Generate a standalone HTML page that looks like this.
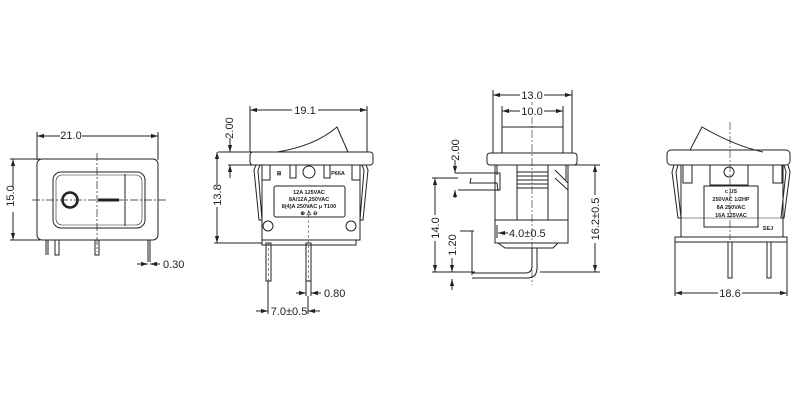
<!DOCTYPE html>
<html><head><meta charset="utf-8"><style>
html,body{margin:0;padding:0;background:#fff;width:800px;height:400px;overflow:hidden}
svg{display:block}
text{font-family:"Liberation Sans",sans-serif;fill:#222}
</style></head><body>
<svg width="800" height="400" viewBox="0 0 800 400" xmlns="http://www.w3.org/2000/svg">
<defs>
<marker id="a" viewBox="0 0 10 10" refX="10" refY="5" markerWidth="7" markerHeight="7" orient="auto-start-reverse"><path d="M0,2 L10,5 L0,8z" fill="#222"/></marker>
</defs>
<g fill="none" stroke="#222" stroke-width="1">
<!-- VIEW 1 -->
<line x1="37" y1="132" x2="37" y2="160"/><line x1="158" y1="132" x2="158" y2="160"/>
<line x1="37" y1="136" x2="158" y2="136" marker-start="url(#a)" marker-end="url(#a)"/>
<rect x="37" y="159" width="121" height="81" rx="5"/>
<rect x="53" y="172" width="92" height="56" rx="8"/>
<rect x="56" y="175" width="86" height="50" rx="6" stroke-width="0.6"/>
<line x1="125" y1="174" x2="125" y2="226"/>
<circle cx="70" cy="200" r="7.5" stroke-width="2.6"/>
<line x1="98" y1="200" x2="119" y2="200" stroke-width="3"/>
<line x1="32" y1="200" x2="166" y2="200" stroke-dasharray="8,2,2,2" stroke-width="0.7"/>
<line x1="97" y1="153" x2="97" y2="252" stroke-dasharray="8,2,2,2" stroke-width="0.7"/>
<line x1="10" y1="159" x2="40" y2="159"/><line x1="10" y1="240" x2="40" y2="240"/>
<line x1="13" y1="159" x2="13" y2="240" marker-start="url(#a)" marker-end="url(#a)"/>
<line x1="46" y1="240" x2="46" y2="255"/><line x1="48" y1="240" x2="48" y2="255"/>
<rect x="55" y="240" width="4" height="15"/><rect x="95" y="240" width="4" height="15"/>
<line x1="148" y1="240" x2="148" y2="262"/><line x1="150" y1="240" x2="150" y2="262"/>
<line x1="137" y1="264" x2="148" y2="264" marker-end="url(#a)"/><line x1="160" y1="264" x2="150" y2="264" marker-end="url(#a)"/>

<!-- VIEW 2 -->
<line x1="250" y1="106" x2="250" y2="152"/><line x1="367" y1="106" x2="367" y2="152"/>
<line x1="250" y1="110" x2="367" y2="110" marker-start="url(#a)" marker-end="url(#a)"/>
<path d="M277,152 Q315,146 337,127 L348,152"/>
<rect x="250" y="152" width="123" height="13" rx="3"/>
<line x1="218" y1="152" x2="252" y2="152"/><line x1="228" y1="165" x2="252" y2="165"/>
<line x1="230" y1="138" x2="230" y2="152" marker-end="url(#a)"/><line x1="230" y1="178" x2="230" y2="165" marker-end="url(#a)"/>
<line x1="214" y1="243" x2="262" y2="243"/>
<line x1="217" y1="152" x2="217" y2="243" marker-start="url(#a)" marker-end="url(#a)"/>
<path d="M256,165 L254,170 L259,220 L262,220 L258,170 L260,165"/>
<path d="M366,165 L368,170 L363,220 L360,220 L364,170 L362,165"/>
<path d="M262,165 L262,240 L360,240 L360,165"/>
<rect x="262" y="165" width="8" height="15"/><rect x="352" y="165" width="8" height="15"/>
<rect x="290" y="165" width="6" height="13"/><rect x="324" y="165" width="6" height="13"/>
<circle cx="309" cy="172" r="6"/>
<rect x="274" y="186" width="71" height="31" rx="2"/>
<circle cx="268" cy="226" r="5"/><circle cx="351" cy="226" r="5"/>
<path d="M262,240 L262,245 L356,245 L356,240"/>
<rect x="266" y="243" width="5" height="38"/><rect x="306" y="243" width="5" height="38"/>
<line x1="268.5" y1="243" x2="268.5" y2="281" stroke-dasharray="3,2" stroke-width="0.5"/>
<line x1="308.5" y1="200" x2="308.5" y2="281" stroke-dasharray="3,2" stroke-width="0.5"/>
<line x1="306" y1="281" x2="306" y2="296"/><line x1="311" y1="281" x2="311" y2="296"/>
<line x1="296" y1="293" x2="306" y2="293" marker-end="url(#a)"/><line x1="321" y1="293" x2="311" y2="293" marker-end="url(#a)"/>
<line x1="268" y1="281" x2="268" y2="314"/><line x1="308" y1="296" x2="308" y2="314"/>
<line x1="256" y1="311" x2="268" y2="311" marker-end="url(#a)"/><line x1="320" y1="311" x2="308" y2="311" marker-end="url(#a)"/>

<!-- VIEW 3 -->
<line x1="493" y1="90" x2="493" y2="153"/><line x1="572" y1="90" x2="572" y2="153"/>
<line x1="493" y1="95" x2="572" y2="95" marker-start="url(#a)" marker-end="url(#a)"/>
<line x1="502" y1="106" x2="502" y2="127"/><line x1="563" y1="106" x2="563" y2="127"/>
<line x1="502" y1="111" x2="563" y2="111" marker-start="url(#a)" marker-end="url(#a)"/>
<rect x="502" y="127" width="61" height="26"/>
<rect x="487" y="153" width="90" height="12" rx="3"/>
<line x1="532" y1="102" x2="532" y2="285" stroke-dasharray="8,2,2,2" stroke-width="0.6"/>
<rect x="495" y="165" width="73" height="55"/>
<line x1="497" y1="165" x2="497" y2="175"/><line x1="566" y1="165" x2="566" y2="180"/>
<rect x="517" y="165" width="31" height="55"/>
<line x1="517" y1="172" x2="548" y2="172"/><line x1="517" y1="176" x2="548" y2="176"/><line x1="517" y1="180" x2="548" y2="180"/><line x1="517" y1="184" x2="548" y2="184"/><line x1="517" y1="188" x2="548" y2="188"/>
<path d="M555,170 L568,183 L568,190 L555,178"/>
<path d="M455,173 L500,173 L500,184 L500,190 L458,190"/>
<path d="M471,178 L470,183 L497,183 L498,191"/>
<rect x="495" y="220" width="73" height="23"/>
<path d="M498,243 L505,248 L553,248 L558,243"/>
<path d="M532,248 L532,266 Q532,273 525,273 L472,273"/>
<path d="M537,248 L537,268 Q537,278 527,278 L472,278"/>
<line x1="573" y1="165" x2="600" y2="165"/><line x1="540" y1="272" x2="600" y2="272"/>
<line x1="595" y1="165" x2="595" y2="272" marker-start="url(#a)" marker-end="url(#a)"/>
<line x1="432" y1="178" x2="458" y2="178"/><line x1="432" y1="272" x2="475" y2="272"/>
<line x1="435" y1="178" x2="435" y2="272" marker-start="url(#a)" marker-end="url(#a)"/>
<line x1="455" y1="160" x2="455" y2="173" marker-end="url(#a)"/><line x1="455" y1="198" x2="455" y2="190" marker-end="url(#a)"/>
<line x1="460" y1="231" x2="474" y2="231"/><line x1="472" y1="231" x2="472" y2="275"/>
<line x1="452" y1="258" x2="452" y2="272" marker-end="url(#a)"/><line x1="452" y1="290" x2="452" y2="279" marker-end="url(#a)"/>
<line x1="497" y1="225" x2="497" y2="238"/>
<line x1="508" y1="233" x2="498" y2="233" marker-end="url(#a)"/>

<!-- VIEW 4 -->
<path d="M690,150 L702,127 Q735,146 763,152"/>
<rect x="667" y="150" width="123" height="15" rx="4"/>
<line x1="730" y1="122" x2="730" y2="240" stroke-dasharray="8,2,2,2" stroke-width="0.6"/>
<path d="M674,165 L672,172 L678,218 L681,218 L676,172 L678,165"/>
<path d="M788,165 L790,172 L784,218 L781,218 L786,172 L784,165"/>
<path d="M681,165 L681,237 L783,237 L783,165"/>
<rect x="683" y="165" width="9" height="18"/><rect x="773" y="165" width="9" height="18"/>
<rect x="710" y="165" width="38" height="20"/>
<circle cx="729" cy="172" r="5"/>
<rect x="704" y="186" width="54" height="41"/>
<line x1="681" y1="218" x2="783" y2="218" stroke-width="0.6"/>
<rect x="675" y="237" width="112" height="5"/>
<rect x="728" y="242" width="4" height="36"/><rect x="767" y="242" width="4" height="36"/>
<line x1="675" y1="242" x2="675" y2="296"/><line x1="787" y1="242" x2="787" y2="296"/>
<line x1="675" y1="293" x2="787" y2="293" marker-start="url(#a)" marker-end="url(#a)"/>
</g>
<g fill="#fff">
<rect x="60" y="129" width="22" height="12"/><rect x="292" y="104" width="26" height="12"/>
<rect x="520" y="89" width="24" height="12"/><rect x="520" y="105" width="24" height="12"/>
<rect x="718" y="287" width="24" height="12"/><rect x="8" y="188" width="12" height="24"/>
<rect x="211" y="185" width="12" height="22"/><rect x="589" y="195" width="12" height="48"/>
<rect x="429" y="215" width="12" height="26"/>
</g>
<g font-size="11">
<text x="71" y="139" text-anchor="middle">21.0</text>
<text x="18" y="200" text-anchor="middle" transform="rotate(-90 14 200)">15.0</text>
<text x="163" y="268">0.30</text>
<text x="305" y="114" text-anchor="middle">19.1</text>
<text x="229" y="132" text-anchor="middle" transform="rotate(-90 229 128)">2.00</text>
<text x="217" y="199" text-anchor="middle" transform="rotate(-90 217 195)">13.8</text>
<text x="324" y="297">0.80</text>
<text x="289" y="315" text-anchor="middle">7.0±0.5</text>
<text x="532" y="99" text-anchor="middle">13.0</text>
<text x="532" y="115" text-anchor="middle">10.0</text>
<text x="455" y="154" text-anchor="middle" transform="rotate(-90 455 150)">2.00</text>
<text x="435" y="232" text-anchor="middle" transform="rotate(-90 435 228)">14.0</text>
<text x="452" y="249" text-anchor="middle" transform="rotate(-90 452 245)">1.20</text>
<text x="509" y="237">4.0±0.5</text>
<text x="595" y="223" text-anchor="middle" transform="rotate(-90 595 219)">16.2±0.5</text>
<text x="730" y="297" text-anchor="middle">18.6</text>
</g>
<g font-size="5.5" font-weight="bold" text-anchor="middle">
<text x="309" y="194">12A 125VAC</text>
<text x="309" y="201">8A/12A 250VAC</text>
<text x="309" y="208">8(4)A 250VAC μ T100</text>
<text x="309" y="215">⊕ ⚠ ⊖</text>
<text x="338" y="175">P66A</text>
<text x="731" y="193">c US</text>
<text x="731" y="201">250VAC 1/2HP</text>
<text x="731" y="209">8A 250VAC</text>
<text x="731" y="217">16A 125VAC</text>
<text x="768" y="230">SEJ</text>
<text x="279" y="175">⊞</text>
</g>
</svg>
</body></html>
